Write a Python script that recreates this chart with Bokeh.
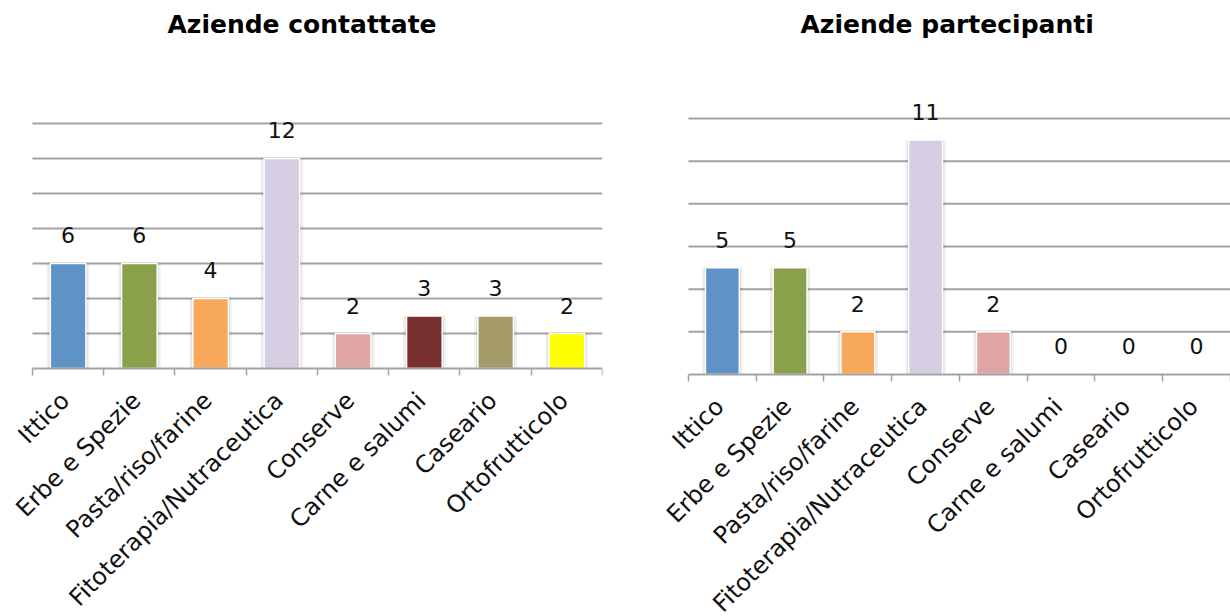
import math

from bokeh.core.properties import value
from bokeh.embed import file_html
from bokeh.layouts import row
from bokeh.models import ColumnDataSource, FixedTicker, LabelSet, Range1d
from bokeh.plotting import figure
from bokeh.resources import INLINE

# Data
categories = [
    "Ittico",
    "Erbe e Spezie",
    "Pasta/riso/farine",
    "Fitoterapia/Nutraceutica",
    "Conserve",
    "Carne e salumi",
    "Caseario",
    "Ortofrutticolo",
]
contattate = [6, 6, 4, 12, 2, 3, 3, 2]
partecipanti = [5, 5, 2, 11, 2, 0, 0, 0]
bar_colors = ["#5F93C7", "#8AA04B", "#F8A85B", "#D5CDE1", "#E0A6A5", "#77302F", "#A49A68", "#FFFF00"]
titles = ["Aziende contattate", "Aziende partecipanti"]
grid_contattate = [2, 4, 6, 8, 10, 12, 14]
grid_partecipanti = [2, 4, 6, 8, 10, 12]

FONT = "DejaVu Sans"
GRID_GRAY = "#A3A3A3"


def bar_panel(title, values, grid_ticks, width, height, x_start, y_start, y_end,
              border_right, border_top, title_offset):
    n = len(categories)
    xs = [i + 0.5 for i in range(n)]
    src = ColumnDataSource(dict(
        x=xs,
        top=values,
        color=bar_colors,
        label=[str(v) for v in values],
    ))

    # the frame covers the whole lower area so the slanted names are not clipped;
    # the axis sits at zero inside it
    p = figure(
        width=width, height=height,
        x_range=Range1d(x_start, n), y_range=Range1d(y_start, y_end),
        output_backend="svg", toolbar_location=None,
        min_border_left=0, min_border_right=border_right,
        min_border_top=border_top, min_border_bottom=0,
    )
    p.outline_line_color = None
    p.background_fill_color = "white"
    p.border_fill_color = "white"

    p.title.text = title
    p.title.align = "left"
    p.title.offset = title_offset
    p.title.text_font = FONT
    p.title.text_font_style = "bold"
    p.title.text_font_size = "25px"
    p.title.text_color = "#000000"

    # horizontal grid lines spanning only the category area
    p.xgrid.grid_line_color = None
    p.ygrid.grid_line_color = None
    p.yaxis.visible = False
    p.segment(x0=[0] * len(grid_ticks), x1=[n] * len(grid_ticks),
              y0=grid_ticks, y1=grid_ticks, line_color=GRID_GRAY, line_width=2)

    # soft shadow behind each bar
    p.vbar(x="x", top="top", width=0.6, source=src, fill_color="#000000",
           fill_alpha=0.05, line_color=None)
    p.vbar(x="x", top="top", width=0.55, source=src, fill_color="#000000",
           fill_alpha=0.08, line_color=None)
    p.vbar(x="x", top="top", width=0.5, source=src, fill_color="color",
           line_color="white", line_width=1.5)

    # value above each bar
    p.add_layout(LabelSet(
        x="x", y="top", text="label", source=src, y_offset=20,
        text_align="center", text_baseline="bottom",
        text_font=value(FONT), text_font_size=value("22px"),
        text_color=value("#111111"),
    ))

    # baseline at zero: boundary ticks between bars, slanted category names
    label_pos = [x - 0.04 for x in xs]
    ax = p.xaxis[0]
    ax.fixed_location = 0
    ax.bounds = (0, n)
    ax.ticker = FixedTicker(ticks=label_pos, minor_ticks=list(range(n + 1)))
    ax.major_label_overrides = {x: c for x, c in zip(label_pos, categories)}
    ax.major_label_orientation = math.pi / 4
    ax.major_label_text_font = FONT
    ax.major_label_text_font_size = "24px"
    ax.major_label_text_color = "#111111"
    ax.major_label_standoff = 21
    ax.axis_line_color = GRID_GRAY
    ax.axis_line_width = 2
    ax.major_tick_line_color = None
    ax.minor_tick_line_color = GRID_GRAY
    ax.minor_tick_line_width = 1.5
    ax.minor_tick_in = 0
    ax.minor_tick_out = 7
    return p


left = bar_panel(titles[0], contattate, grid_contattate, 615, 616,
                 -0.449, -14.17, 18.57, 13, 43, 167)
right = bar_panel(titles[1], partecipanti, grid_partecipanti, 615, 616,
                  -1.077, -11.35, 15.52, 0, 43, 185)

layout = row(left, right, spacing=0)
open("out.html", "w").write(file_html(layout, INLINE))
